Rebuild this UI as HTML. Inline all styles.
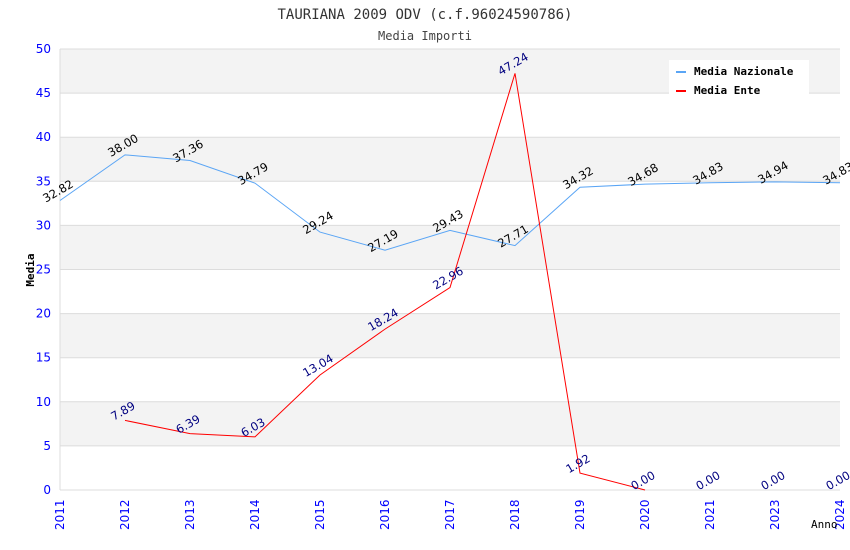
<!DOCTYPE html>
<html><head><meta charset="utf-8"><style>
body{margin:0;background:#fff}
svg{display:block}
.mono{font-family:"DejaVu Sans Mono","Liberation Mono",monospace}
.tick{font-family:"DejaVu Sans","Liberation Sans",sans-serif;font-size:12px;fill:#0000ff}
.lbl{font-family:"DejaVu Sans","Liberation Sans",sans-serif;font-size:11.5px}
</style></head><body>
<svg id="chart" width="850" height="550" xmlns="http://www.w3.org/2000/svg">
<text class="mono" x="425" y="19" text-anchor="middle" font-size="14" fill="#333">TAURIANA 2009 ODV (c.f.96024590786)</text>
<text class="mono" x="425" y="40" text-anchor="middle" font-size="12" fill="#444">Media Importi</text>
<g id="grid"></g>
<g id="marks"></g>
<text class="mono" font-size="11" font-weight="bold" transform="translate(34,270) rotate(-90)" text-anchor="middle">Media</text>
<text class="mono" font-size="11" x="811" y="528">Anno</text>
<g>
<rect x="669" y="60" width="140" height="36" fill="#fff"/>
<rect x="676" y="71" width="10" height="2" fill="#5aa5f5"/>
<text class="mono" x="694" y="75" font-size="11" font-weight="bold">Media Nazionale</text>
<rect x="676" y="90" width="10" height="2" fill="#ff0000"/>
<text class="mono" x="694" y="94" font-size="11" font-weight="bold">Media Ente</text>
</g>
</svg>
<script>
const categories=["2011","2012","2013","2014","2015","2016","2017","2018","2019","2020","2021","2023","2024"];
const nazionale=[32.82,38.00,37.36,34.79,29.24,27.19,29.43,27.71,34.32,34.68,34.83,34.94,34.83];
const ente=[null,7.89,6.39,6.03,13.04,18.24,22.96,47.24,1.92,0.00,0.00,0.00,0.00];
const enteLineEnd="2020";
const yTicks=[0,5,10,15,20,25,30,35,40,45,50];
const NS="http://www.w3.org/2000/svg";
const X0=60,X1=840,Y0=490,Y1=49,YMAX=50;
const x=i=>X0+i*(X1-X0)/(categories.length-1);
const y=v=>Y0-v*(Y0-Y1)/YMAX;
function mk(t,a,p){const e=document.createElementNS(NS,t);for(const k in a)e.setAttribute(k,a[k]);p.appendChild(e);return e;}
const grid=document.getElementById('grid'),marks=document.getElementById('marks');
for(let i=0;i<yTicks.length-1;i++){
 if(i%2===1){const r=mk('rect',{x:X0,y:y(yTicks[i+1]),width:X1-X0,height:y(yTicks[i])-y(yTicks[i+1]),fill:'#f3f3f3'},grid);
 
 }
}
yTicks.forEach(v=>{
 const l=mk('line',{x1:X0,x2:X1,y1:y(v),y2:y(v),stroke:'#dcdcdc','stroke-width':1},grid);
 
 
 const t=mk('text',{x:X0-9,y:y(v)+4,'text-anchor':'end',class:'tick'},grid);t.textContent=v;
 
 
});
mk('line',{x1:X0,x2:X0,y1:Y1,y2:Y0,stroke:'#dcdcdc'},grid);
categories.forEach((c,i)=>{
 const t=mk('text',{transform:`translate(${x(i)+4},${Y0+40}) rotate(-90)`,class:'tick'},grid);t.textContent=c;
 
 
});
function series(vals,color,lblColor,name,endIdx){
 const pts=[];vals.forEach((v,i)=>{if(v!==null&&i<=endIdx)pts.push(x(i)+','+y(v));});
 const p=mk('polyline',{points:pts.join(' '),fill:'none',stroke:color,'stroke-width':1},marks);
 
 
 vals.forEach((v,i)=>{if(v===null)return;
  const t=mk('text',{transform:`translate(${x(i)},${y(v)-6}) rotate(-30)`,'text-anchor':'middle',class:'lbl',fill:lblColor},marks);
  t.textContent=v.toFixed(2);
  
  
 });
}
series(nazionale,'#5aa5f5','#000','media-nazionale',categories.length-1);
series(ente,'#ff0000','#000080','media-ente',categories.indexOf(enteLineEnd));
</script>
</body></html>
